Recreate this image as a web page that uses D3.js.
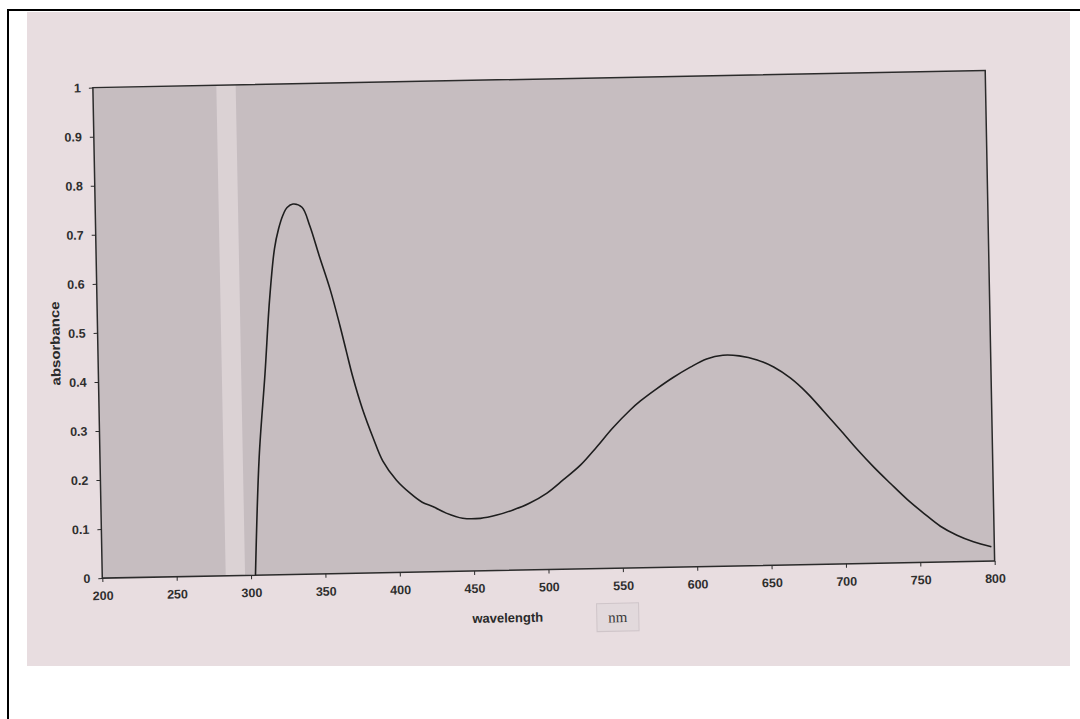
<!DOCTYPE html>
<html>
<head>
<meta charset="utf-8">
<script src="https://cdn.jsdelivr.net/npm/d3@7"></script>
<style>
  body { margin: 0; background: #fff; }
  svg { display: block; }
</style>
</head>
<body>
<div id="chart"></div>
<script>
// absorbance spectrum
const wavelength = [303, 307, 312, 316, 320, 323, 326, 329, 333, 339, 344, 350, 357, 363, 367, 371,
  377, 384, 390, 399, 408, 416, 423, 432, 443, 455, 466, 477, 488, 500, 511, 523, 534, 545, 557,
  564, 575, 586, 598, 609, 620, 631, 643, 654, 665, 676, 687, 698, 709, 720, 731, 742, 753, 764,
  775, 786, 798];
const absorbance = [0, 0.24, 0.41, 0.56, 0.665, 0.705, 0.732, 0.748, 0.755, 0.748, 0.71, 0.648,
  0.578, 0.505, 0.452, 0.400, 0.335, 0.274, 0.228, 0.188, 0.161, 0.142, 0.133, 0.119, 0.108, 0.107,
  0.113, 0.123, 0.136, 0.156, 0.182, 0.212, 0.248, 0.286, 0.322, 0.340, 0.364, 0.386, 0.407, 0.423,
  0.430, 0.428, 0.419, 0.404, 0.381, 0.350, 0.312, 0.273, 0.233, 0.196, 0.162, 0.129, 0.100, 0.073,
  0.054, 0.040, 0.029];

const xTicks = [200, 250, 300, 350, 400, 450, 500, 550, 600, 650, 700, 750, 800];
const yTicks = [0, 0.1, 0.2, 0.3, 0.4, 0.5, 0.6, 0.7, 0.8, 0.9, 1];
const xTitle = 'wavelength';
const xUnit = 'nm';
const yTitle = 'absorbance';

const width = 1080;
const height = 719;
const plot = { left: 97.5, top: 79, right: 990, bottom: 569.6 };
const tilt = -1.1; // the printout sits slightly crooked on the scan

const data = wavelength.map((w, i) => ({ w, a: absorbance[i] }));

const svg = d3
  .select('#chart')
  .append('svg')
  .attr('width', width)
  .attr('height', height);

// page frame
svg.append('path')
  .attr('d', `M8,${height}V10H${width}`)
  .attr('fill', 'none')
  .attr('stroke', '#000')
  .attr('stroke-width', 2);

// scanned paper
svg.append('rect')
  .attr('x', 27).attr('y', 12)
  .attr('width', 1043).attr('height', 654)
  .attr('fill', '#e8dde0');

const x = d3.scaleLinear().domain([200, 800]).range([plot.left, plot.right]);
const y = d3.scaleLinear().domain([0, 1]).range([plot.bottom, plot.top]);

const cx = (plot.left + plot.right) / 2;
const cy = (plot.top + plot.bottom) / 2;
const g = svg.append('g').attr('transform', `rotate(${tilt},${cx},${cy})`);

// plot area
g.append('rect')
  .attr('x', plot.left).attr('y', plot.top)
  .attr('width', plot.right - plot.left).attr('height', plot.bottom - plot.top)
  .attr('fill', '#c6bdc0');

// pale streak the scanner left across the plot
g.append('rect')
  .attr('x', x(283)).attr('y', plot.top)
  .attr('width', x(296) - x(283)).attr('height', plot.bottom - plot.top)
  .attr('fill', '#dbd2d4');

g.append('rect')
  .attr('x', plot.left).attr('y', plot.top)
  .attr('width', plot.right - plot.left).attr('height', plot.bottom - plot.top)
  .attr('fill', 'none')
  .attr('stroke', '#2b2b2b')
  .attr('stroke-width', 1.5);

const tickFont = (sel) =>
  sel.selectAll('text')
    .attr('font-family', 'Liberation Sans, Arial, sans-serif')
    .attr('font-size', 12.5)
    .attr('font-weight', 'bold')
    .attr('fill', '#2e2e2e');

const xAxis = g.append('g')
  .attr('transform', `translate(0,${plot.bottom})`)
  .call(d3.axisBottom(x).tickValues(xTicks).tickSize(4).tickPadding(9).tickFormat(d3.format('d')));
xAxis.select('.domain').remove();
xAxis.selectAll('line').attr('stroke', '#2b2b2b');
tickFont(xAxis);

const yAxis = g.append('g')
  .attr('transform', `translate(${plot.left},0)`)
  .call(d3.axisLeft(y).tickValues(yTicks).tickSize(4).tickPadding(8).tickFormat(d3.format('~g')));
yAxis.select('.domain').remove();
yAxis.selectAll('line').attr('stroke', '#2b2b2b');
tickFont(yAxis);

// spectrum
const line = d3.line()
  .x((d) => x(d.w))
  .y((d) => y(d.a))
  .curve(d3.curveCatmullRom.alpha(0.5));

g.append('path')
  .datum(data)
  .attr('d', line)
  .attr('fill', 'none')
  .attr('stroke', '#1e1e1e')
  .attr('stroke-width', 1.6);

// axis titles
g.append('text')
  .attr('x', x(472))
  .attr('y', plot.bottom + 52)
  .attr('text-anchor', 'middle')
  .attr('font-family', 'Liberation Sans, Arial, sans-serif')
  .attr('font-size', 13)
  .attr('font-weight', 'bold')
  .attr('fill', '#2a2a2a')
  .text(xTitle);

const unitX = x(546);
g.append('rect')
  .attr('x', unitX - 21).attr('y', plot.bottom + 35)
  .attr('width', 42).attr('height', 28)
  .attr('fill', '#e2d9dc')
  .attr('stroke', '#cfc5c9');
g.append('text')
  .attr('x', unitX)
  .attr('y', plot.bottom + 54)
  .attr('text-anchor', 'middle')
  .attr('font-family', 'Liberation Serif, serif')
  .attr('font-size', 15)
  .attr('fill', '#3a3a3a')
  .text(xUnit);

g.append('text')
  .attr('transform', `translate(${plot.left - 38},${y(0.48)}) rotate(-90)`)
  .attr('text-anchor', 'middle')
  .attr('font-family', 'Liberation Sans, Arial, sans-serif')
  .attr('font-size', 13)
  .attr('font-weight', 'bold')
  .attr('fill', '#2a2a2a')
  .attr('textLength', 84)
  .attr('lengthAdjust', 'spacingAndGlyphs')
  .text(yTitle);
</script>
</body>
</html>
